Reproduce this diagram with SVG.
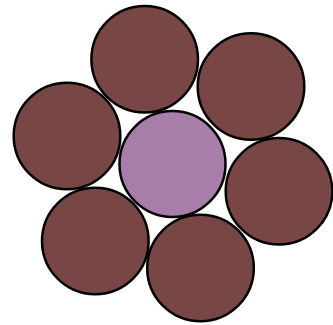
<svg xmlns="http://www.w3.org/2000/svg" width="333" height="325" viewBox="0 0 333 325">
<style>
circle{stroke:#000;stroke-width:2.5}
.o{fill:#794646}
.c{fill:#a77ea9}
</style>
<rect width="333" height="325" fill="#fff"/>
<g id="center"><circle class="c" cx="172.5" cy="164" r="53"/></g>
<g id="top"><circle class="o" cx="144.7" cy="59.3" r="53.3"/></g>
<g id="topright"><circle class="o" cx="251" cy="86.5" r="53.3"/></g>
<g id="right"><circle class="o" cx="279" cy="191.3" r="53.3"/></g>
<g id="bottom"><circle class="o" cx="200.5" cy="268" r="53.3"/></g>
<g id="bottomleft"><circle class="o" cx="95.3" cy="241" r="53.3"/></g>
<g id="left"><circle class="o" cx="67" cy="136" r="53.3"/></g>
</svg>
